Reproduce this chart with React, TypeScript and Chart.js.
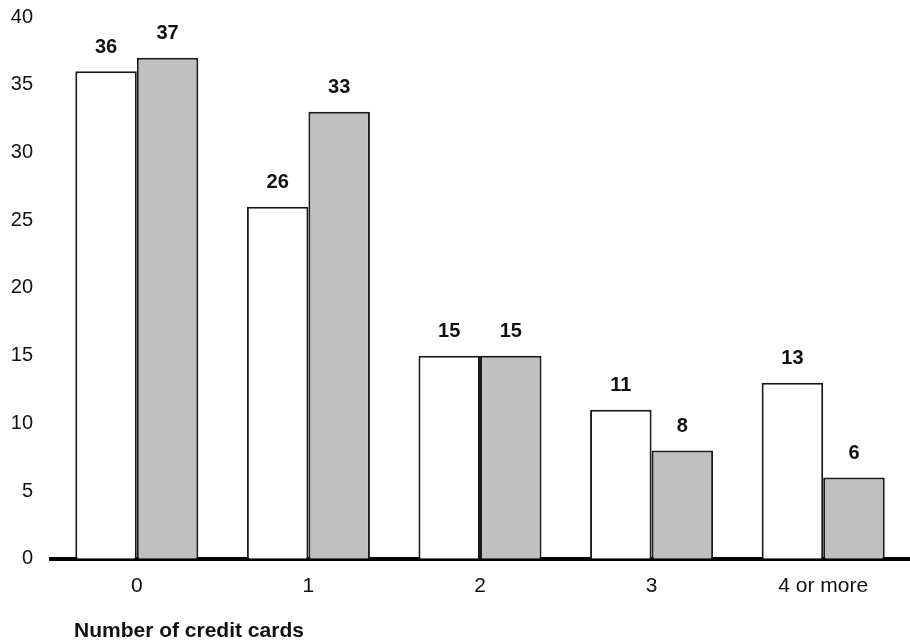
import React, { useEffect, useRef } from "react";
import { Chart, registerables } from "chart.js";

Chart.register(...registerables);

const categories = ["0", "1", "2", "3", "4 or more"];
const seriesA = [36, 26, 15, 11, 13];
const seriesB = [37, 33, 15, 8, 6];
const yTicks = [0, 5, 10, 15, 20, 25, 30, 35, 40];
const xTitle = "Number of credit cards";

const FONT = 'Helvetica, Arial, "Liberation Sans", sans-serif';

const valueLabels = {
  id: "valueLabels",
  afterDatasetsDraw(chart: any) {
    const ctx = chart.ctx;
    ctx.save();
    ctx.font = `bold 20px ${FONT}`;
    ctx.fillStyle = "#111";
    ctx.textAlign = "center";
    ctx.textBaseline = "middle";
    chart.data.datasets.forEach((ds: any, i: number) => {
      const meta = chart.getDatasetMeta(i);
      meta.data.forEach((bar: any, j: number) => {
        ctx.fillText(String(ds.data[j]), bar.x, bar.y - 24);
      });
    });
    ctx.restore();
  },
};

const axisTitle = {
  id: "axisTitle",
  afterDraw(chart: any) {
    const ctx = chart.ctx;
    ctx.save();
    ctx.font = `bold 21px ${FONT}`;
    ctx.fillStyle = "#111";
    ctx.textAlign = "left";
    ctx.textBaseline = "middle";
    ctx.fillText(xTitle, chart.chartArea.left + 23, chart.height - 13);
    ctx.restore();
  },
};

export default function App() {
  const ref = useRef<HTMLCanvasElement | null>(null);
  useEffect(() => {
    document.body.style.margin = "0";
    const chart = new Chart(ref.current!, {
      type: "bar",
      data: {
        labels: categories,
        datasets: [
          {
            label: "A",
            data: seriesA,
            backgroundColor: "#ffffff",
            borderColor: "#1a1a1a",
            borderWidth: 2,
            categoryPercentage: 0.717,
            barPercentage: 1,
          },
          {
            label: "B",
            data: seriesB,
            backgroundColor: "#c0c0c0",
            borderColor: "#1a1a1a",
            borderWidth: 2,
            categoryPercentage: 0.717,
            barPercentage: 1,
          },
        ],
      },
      options: {
        animation: false,
        responsive: false,
        layout: { padding: { top: 17, left: 11, right: 1, bottom: 30 } },
        plugins: { legend: { display: false }, tooltip: { enabled: false } },
        scales: {
          x: {
            z: 1,
            grid: { display: false, drawTicks: false },
            border: { display: true, color: "#000", width: 4 },
            ticks: { color: "#111", font: { family: FONT, size: 21 }, padding: 15 },
          },
          y: {
            min: 0,
            max: 40,
            grid: { display: false, drawTicks: false },
            border: { display: false },
            afterBuildTicks: (scale: any) => {
              scale.ticks = yTicks.map((v) => ({ value: v }));
            },
            afterFit: (scale: any) => {
              scale.width = 40;
              scale.paddingTop = 0;
              scale.paddingBottom = 0;
            },
            ticks: { color: "#111", font: { family: FONT, size: 20 }, padding: 18 },
          },
        },
      },
      plugins: [valueLabels, axisTitle],
    });
    return () => chart.destroy();
  }, []);
  return (
    <div style={{ width: 910, height: 644 }}>
      <canvas ref={ref} width={910} height={644} />
    </div>
  );
}
